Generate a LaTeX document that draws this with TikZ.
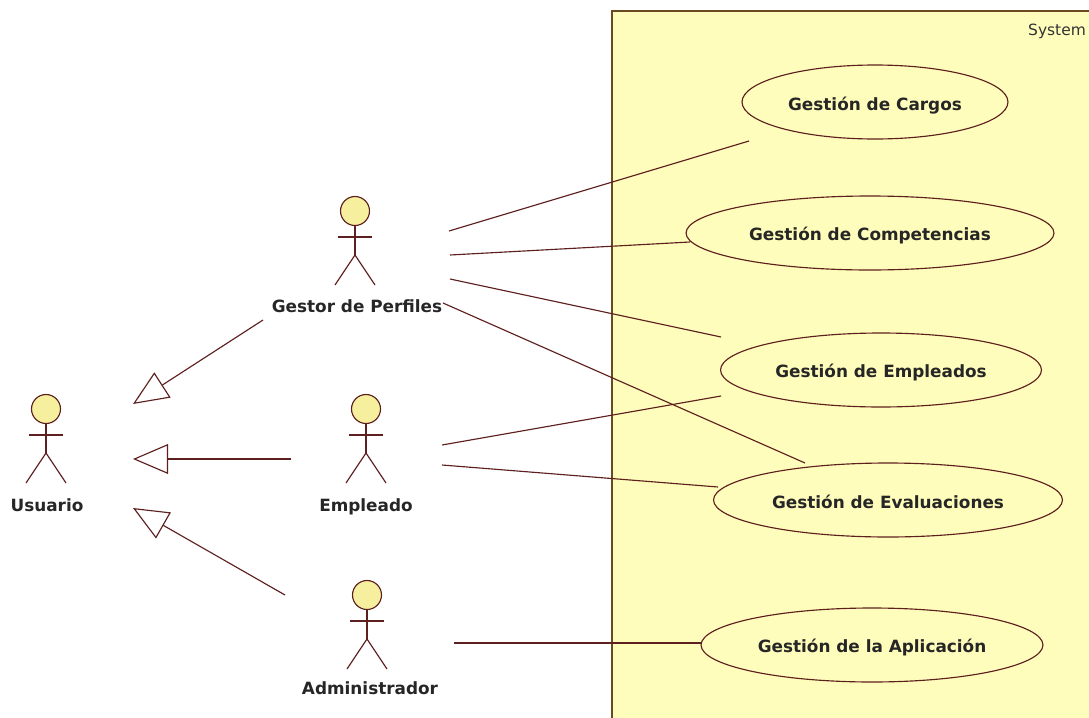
\documentclass[tikz,border=0pt]{standalone}
\usepackage{fontspec}
\setmainfont{DejaVu Sans}
\usetikzlibrary{shapes.geometric,arrows.meta}
\definecolor{linecol}{HTML}{5E1F1F}
\definecolor{sysfill}{HTML}{FFFDBB}
\definecolor{sysline}{HTML}{6B4A22}
\definecolor{headfill}{HTML}{F6EF9E}
\tikzset{
  usecase/.style={draw=linecol, line width=0.65pt, ellipse, inner sep=0pt, minimum height=1.48cm, text height=8pt, text depth=0pt, font=\bfseries\fontsize{9.6}{11}\selectfont, text=black!85},
  actorname/.style={font=\bfseries\fontsize{9.6}{11}\selectfont, text=black!85, inner sep=0pt, text height=7pt, text depth=0pt},
  assoc/.style={draw=linecol, line width=0.65pt},
  inherit/.style={draw=linecol, line width=0.65pt, -{Triangle[open, length=20pt, width=17pt]}},
  actor/.pic={
    \node[circle, draw=linecol, line width=0.65pt, fill=headfill, minimum size=0.58cm, inner sep=0pt] (-head) at (0, 0) {};
    \coordinate (-hip) at (0, 44);
    \draw[linecol, line width=0.65pt] (-head) -- (-hip);
    \draw[linecol, line width=0.65pt] (-17, 26) -- (17, 26);
    \draw[linecol, line width=0.65pt] (-20, 74) -- (-hip) -- (20, 74);
  }
}

\begin{document}
\begin{tikzpicture}[x=0.02cm, y=-0.02cm]
\useasboundingbox (0, 0) rectangle (1089, 717);
\clip (0, 0) rectangle (1089, 717);
% system boundary
\draw[sysline, fill=sysfill, line width=0.9pt] (612, 11) rectangle (1100, 730);
\node[font=\fontsize{8.8}{10}\selectfont, text=black!80, inner sep=0pt] (system) at (1057, 31) {System};

% use cases
\node[usecase, minimum width=5.32cm, text height=10.2pt] (cargos) at (875, 102) {Gestión de Cargos};
\node[usecase, minimum width=7.36cm] (competencias) at (870, 233) {Gestión de Competencias};
\node[usecase, minimum width=6.42cm] (empleados) at (881, 370) {Gestión de Empleados};
\node[usecase, minimum width=6.98cm, text height=10.2pt] (evaluaciones) at (888, 500) {Gestión de Evaluaciones};
\node[usecase, minimum width=6.84cm] (aplicacion) at (872, 645) {Gestión de la Aplicación};

% actors
\pic (usuario) at (46, 409) {actor};
\pic (gestor) at (355, 211) {actor};
\pic (empleado) at (366, 409) {actor};
\pic (admin) at (367, 595) {actor};
\node[actorname] (usuarioname) at (47, 505) {Usuario};
\node[actorname] (gestorname) at (357, 306) {Gestor de Perfiles};
\node[actorname] (empleadoname) at (366, 505) {Empleado};
\node[actorname] (adminname) at (370, 688) {Administrador};

% free ends of the lines
\coordinate (g1) at (449, 231);
\coordinate (g2) at (450, 255);
\coordinate (g3) at (450, 279);
\coordinate (g4) at (443, 303);
\coordinate (e1) at (442, 445);
\coordinate (e2) at (442, 465);
\coordinate (a1) at (454, 643);
\coordinate (c1) at (749, 141);
\coordinate (c2) at (690, 242);
\coordinate (c3) at (721, 337);
\coordinate (c4) at (805, 463);
\coordinate (c5) at (721, 396);
\coordinate (c6) at (718, 487);
\coordinate (c7) at (702, 643);
\draw[assoc] (g1) -- (c1);
\draw[assoc] (g2) -- (c2);
\draw[assoc] (g3) -- (c3);
\draw[assoc] (g4) -- (c4);
\draw[assoc] (e1) -- (c5);
\draw[assoc] (e2) -- (c6);
\draw[assoc] (a1) -- (c7);

% generalisations
\coordinate (i1) at (263, 320);
\coordinate (i2) at (291, 459);
\coordinate (i3) at (285, 595);
\coordinate (t1) at (133, 404);
\coordinate (t2) at (133, 459);
\coordinate (t3) at (133, 508);
\draw[inherit] (i1) -- (t1);
\draw[inherit] (i2) -- (t2);
\draw[inherit] (i3) -- (t3);
\end{tikzpicture}
\end{document}
